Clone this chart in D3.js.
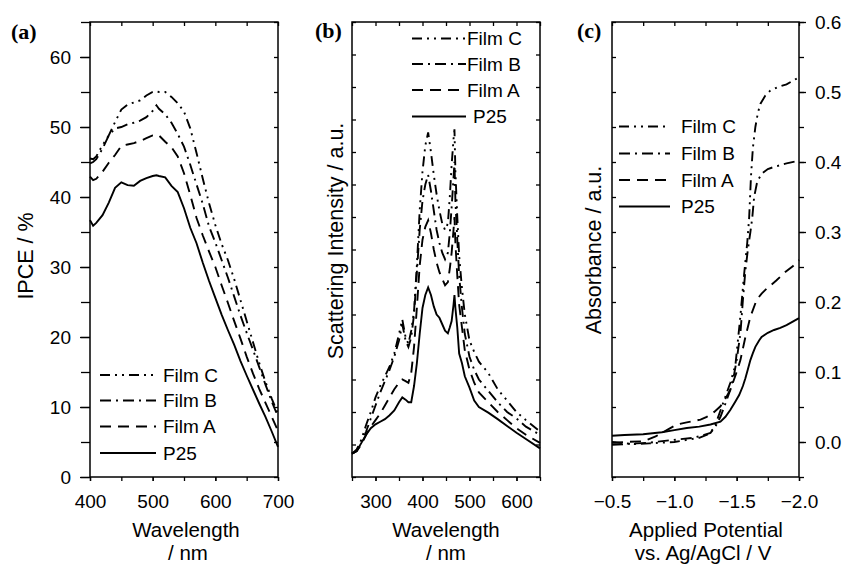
<!DOCTYPE html>
<html><head><meta charset="utf-8">
<script src="https://cdn.jsdelivr.net/npm/d3@7"></script>
<style>
html,body{margin:0;padding:0;background:#fff;}
svg text{font-family:"Liberation Sans",Arial,Helvetica,sans-serif;fill:#000;}
</style></head>
<body>
<svg id="chart" width="843" height="565"></svg>
<script>
// ---------- Panel (a): IPCE ----------
const wlA = [400,405,410,420,430,440,450,460,470,480,490,500,506,510,520,530,540,550,560,570,580,590,600,610,620,630,640,650,660,670,680,690,700];
const ipceP25  = [36.7,35.9,36.3,37.4,39.2,41.3,42.1,41.7,41.6,42.3,42.7,43.0,43.1,43.0,42.8,41.6,40.7,38.4,35.6,33.4,30.6,28.0,25.6,23.2,21.0,18.9,16.6,14.5,12.5,10.5,8.6,6.5,4.3];
const ipceFilmA = [42.9,42.4,42.6,43.6,44.9,46.0,47.3,47.5,47.7,48.0,48.4,48.8,48.9,48.8,47.9,47.1,45.8,43.4,40.3,37.0,34.5,32.2,30.0,27.4,24.9,22.3,19.8,17.2,14.8,12.6,10.6,8.6,6.6];
const ipceFilmB = [44.8,45.0,45.4,46.9,48.8,49.8,50.0,50.4,50.6,50.9,51.4,52.3,53.1,52.6,51.8,50.6,49.0,47.2,44.6,41.8,39.0,35.8,33.5,31.0,28.5,25.8,23.1,20.6,18.2,15.7,13.2,10.8,8.6];
const ipceFilmC = [45.5,45.4,45.8,47.4,48.8,50.7,52.5,53.2,53.5,53.8,54.5,55.0,55.1,55.0,55.0,54.3,53.4,52.2,49.8,46.3,42.6,39.1,36.0,33.3,31.0,28.3,25.3,22.3,19.3,16.3,13.6,11.2,9.0];

// ---------- Panel (b): Scattering ----------
const wlB = [250,260,270,280,290,300,310,320,330,340,350,357,364,370,376,382,388,394,400,406,412,418,424,430,436,442,448,454,458,462,466,468,470,474,478,484,490,500,510,520,540,560,580,600,620,650];
const scatP25   = [0.72,0.8,1.05,1.3,1.5,1.62,1.7,1.78,1.9,2.05,2.3,2.45,2.38,2.3,2.3,2.8,3.5,4.4,5.2,5.6,5.83,5.6,5.25,5.0,4.9,4.7,4.5,4.42,4.6,4.8,5.3,5.6,5.2,4.6,3.8,3.5,3.1,2.75,2.35,2.15,1.98,1.78,1.57,1.36,1.17,0.88];
const scatFilmA = [0.72,0.8,1.0,1.3,1.55,1.75,1.95,2.2,2.45,2.7,2.9,3.0,2.95,2.9,3.2,4.0,5.2,6.5,7.3,7.7,7.9,7.5,7.0,6.6,6.3,6.1,5.9,6.0,6.4,6.9,7.6,8.0,7.2,6.2,5.3,4.6,3.9,3.3,2.9,2.6,2.3,2.0,1.75,1.5,1.3,1.05];
const scatFilmB = [0.72,0.8,1.05,1.4,1.8,2.2,2.6,2.95,3.3,3.7,4.2,4.7,4.2,4.0,4.3,5.0,6.3,7.6,8.5,9.0,9.3,8.8,8.2,7.6,7.2,6.9,6.7,6.9,7.5,8.3,9.2,9.7,8.5,7.3,6.2,5.2,4.4,3.7,3.3,3.0,2.65,2.3,2.0,1.8,1.55,1.3];
const scatFilmC = [0.72,0.85,1.15,1.6,2.0,2.45,2.8,3.1,3.4,3.8,4.4,4.85,4.3,4.1,4.5,5.1,6.5,8.2,9.4,10.2,10.6,10.0,9.3,8.7,8.2,7.8,7.6,7.8,8.6,9.6,10.4,10.7,9.4,8.0,6.8,5.8,5.0,4.2,3.85,3.55,3.2,2.7,2.35,2.0,1.75,1.4];

// ---------- Panel (c): Absorbance vs potential ----------
const potP25   = [-0.5,-0.6,-0.75,-0.9,-1.0,-1.1,-1.2,-1.29,-1.37,-1.41,-1.45,-1.49,-1.52,-1.55,-1.57,-1.59,-1.61,-1.63,-1.65,-1.68,-1.7,-1.75,-1.8,-1.85,-1.9,-1.95,-2.0];
const absP25   = [0.009,0.010,0.011,0.014,0.017,0.020,0.022,0.025,0.029,0.036,0.046,0.058,0.067,0.080,0.091,0.104,0.117,0.127,0.136,0.145,0.150,0.156,0.160,0.163,0.167,0.172,0.177];
const potFilmA = [-0.5,-0.6,-0.75,-0.85,-0.95,-1.02,-1.1,-1.21,-1.26,-1.32,-1.37,-1.41,-1.45,-1.5,-1.53,-1.57,-1.61,-1.66,-1.7,-1.74,-1.82,-1.89,-1.95,-2.0];
const absFilmA = [-0.001,0.000,0.001,0.008,0.018,0.025,0.028,0.032,0.036,0.043,0.051,0.062,0.075,0.100,0.117,0.150,0.179,0.203,0.212,0.219,0.231,0.243,0.251,0.260];
const potFilmB = [-0.5,-0.6,-0.7,-0.8,-0.94,-1.05,-1.15,-1.22,-1.29,-1.33,-1.37,-1.41,-1.45,-1.48,-1.5,-1.53,-1.55,-1.57,-1.59,-1.61,-1.625,-1.64,-1.665,-1.7,-1.75,-1.8,-1.9,-2.0];
const absFilmB = [-0.004,-0.003,-0.002,-0.001,0.002,0.004,0.006,0.009,0.013,0.022,0.036,0.055,0.075,0.097,0.117,0.155,0.203,0.245,0.275,0.300,0.320,0.350,0.372,0.383,0.390,0.393,0.398,0.402];
const potFilmC = [-0.5,-0.6,-0.7,-0.8,-0.9,-1.0,-1.1,-1.2,-1.27,-1.32,-1.36,-1.4,-1.45,-1.49,-1.53,-1.56,-1.585,-1.6,-1.615,-1.63,-1.65,-1.67,-1.69,-1.73,-1.77,-1.83,-1.9,-1.95,-2.0];
const absFilmC = [0.000,-0.002,-0.003,-0.002,-0.001,0.000,0.003,0.006,0.011,0.020,0.040,0.060,0.085,0.110,0.180,0.240,0.285,0.320,0.380,0.420,0.450,0.470,0.483,0.495,0.502,0.507,0.511,0.516,0.521];

// ---------- labels ----------
const seriesNames = ["Film C","Film B","Film A","P25"];
const ticksA_x = [400,500,600,700];
const ticksA_y = [0,10,20,30,40,50,60];
const ticksB_x = [300,400,500,600];
const ticksC_x = [-0.5,-1.0,-1.5,-2.0];
const ticksC_y = [0.0,0.1,0.2,0.3,0.4,0.5,0.6];

// ---------- drawing ----------
const svg = d3.select("#chart");
const dashes = {"Film C":"10,5,2,5,2,5","Film B":"11,5,2,5","Film A":"11,7","P25":null};
const TOP = 22, BOT = 477;
const tickFont = "19px", titleFont = "21.5px", xTitleFont = "20.5px", legFont = "19px";

function frame(x0,x1){
  svg.append("rect").attr("x",x0).attr("y",TOP).attr("width",x1-x0).attr("height",BOT-TOP)
    .attr("fill","none").attr("stroke","#000").attr("stroke-width",1.5);
}
function styleAxis(g){
  g.select(".domain").remove();
  g.selectAll("line").attr("stroke","#000").attr("stroke-width",1.3);
  g.selectAll("text").style("font-size",tickFont).attr("fill","#000");
}
function range(a,b,s){const r=[];for(let v=a;v<=b+1e-9;v+=s)r.push(+v.toFixed(4));return r;}

function drawLines(x,y,xs,ys){
  const line = d3.line().x(d=>x(d[0])).y(d=>y(d[1])).curve(d3.curveLinear);
  seriesNames.forEach((n,i)=>{
    const pts = xs[i].map((v,j)=>[v,ys[i][j]]);
    svg.append("path").datum(pts).attr("d",line).attr("fill","none")
      .attr("stroke","#000").attr("stroke-width",1.9)
      .attr("stroke-dasharray",dashes[n]);
  });
}
function legend(lx0,lx1,tx,rows,txOverride){
  seriesNames.forEach((n,i)=>{
    svg.append("line").attr("x1",lx0).attr("x2",lx1).attr("y1",rows[i]).attr("y2",rows[i])
      .attr("stroke","#000").attr("stroke-width",2).attr("stroke-dasharray",dashes[n]);
    svg.append("text").attr("x",(txOverride&&txOverride[n])||tx).attr("y",rows[i]).attr("dy","0.35em")
      .style("font-size",legFont).text(n);
  });
}
function panelLabel(x,y,t){
  svg.append("text").attr("x",x).attr("y",y).text(t)
    .style("font-family","'Liberation Serif','Times New Roman',serif").style("font-weight","bold").style("font-size","22px");
}
function yTitle(x,cy,t){
  svg.append("text").attr("transform",`translate(${x},${cy}) rotate(-90)`).attr("text-anchor","middle")
    .style("font-size",titleFont).text(t);
}
function xTitle(cx,y,t){
  svg.append("text").attr("x",cx).attr("y",y).attr("text-anchor","middle").style("font-size",xTitleFont).text(t);
}

// Panel A
{
  const x = d3.scaleLinear([400,700],[90,278]);
  const y = d3.scaleLinear([0,65],[BOT,TOP]);
  svg.append("g").attr("transform",`translate(0,${BOT})`).call(d3.axisBottom(x).tickValues(range(400,700,50)).tickFormat("").tickSize(4)).call(styleAxis);
  svg.append("g").attr("transform",`translate(0,${BOT})`).call(d3.axisBottom(x).tickValues(ticksA_x).tickFormat(d3.format("d")).tickSize(4).tickPadding(14)).call(styleAxis);
  svg.append("g").attr("transform",`translate(0,${TOP})`).call(d3.axisBottom(x).tickValues(range(400,700,50)).tickFormat("").tickSize(4)).call(styleAxis);
  svg.append("g").attr("transform",`translate(90,0)`).call(d3.axisLeft(y).tickValues(range(0,65,5)).tickFormat("").tickSize(9)).call(styleAxis);
  svg.append("g").attr("transform",`translate(90,0)`).call(d3.axisLeft(y).tickValues(ticksA_y).tickFormat(d3.format("d")).tickSize(10).tickPadding(9)).call(styleAxis);
  svg.append("g").attr("transform",`translate(278,0)`).call(d3.axisLeft(y).tickValues(range(0,65,5)).tickFormat("").tickSize(4)).call(styleAxis);
  frame(90,278);
  drawLines(x,y,[wlA,wlA,wlA,wlA],[ipceFilmC,ipceFilmB,ipceFilmA,ipceP25]);
  legend(100,156,163,[375,400.5,426.5,453]);
  panelLabel(11,39,"(a)");
  yTitle(33,256,"IPCE / %");
  xTitle(186,537,"Wavelength");
  xTitle(188,560,"/ nm");
}
// Panel B
{
  const x = d3.scaleLinear([250,650],[352,540]);
  const y = d3.scaleLinear([0,14],[BOT,TOP]);
  svg.append("g").attr("transform",`translate(0,${BOT})`).call(d3.axisBottom(x).tickValues(range(250,650,50)).tickFormat("").tickSize(4)).call(styleAxis);
  svg.append("g").attr("transform",`translate(0,${BOT})`).call(d3.axisBottom(x).tickValues(ticksB_x).tickFormat(d3.format("d")).tickSize(4).tickPadding(14)).call(styleAxis);
  svg.append("g").attr("transform",`translate(0,${TOP})`).call(d3.axisBottom(x).tickValues(range(250,650,50)).tickFormat("").tickSize(4)).call(styleAxis);
  svg.append("g").attr("transform",`translate(352,0)`).call(d3.axisRight(y).tickValues(range(0,14,1)).tickFormat("").tickSize(4)).call(styleAxis);
  svg.append("g").attr("transform",`translate(540,0)`).call(d3.axisLeft(y).tickValues(range(0,14,1)).tickFormat("").tickSize(4)).call(styleAxis);
  frame(352,540);
  drawLines(x,y,[wlB,wlB,wlB,wlB],[scatFilmC,scatFilmB,scatFilmA,scatP25]);
  legend(412,466,467,[38.5,64,90,116.5],{"P25":473});
  panelLabel(315,38,"(b)");
  yTitle(343,241,"Scattering Intensity / a.u.");
  xTitle(446,537,"Wavelength");
  xTitle(446,560,"/ nm");
}
// Panel C
{
  const x = d3.scaleLinear([-0.5,-2.0],[612,799]);
  const y = d3.scaleLinear([-0.05,0.6],[BOT,TOP]);
  svg.append("g").attr("transform",`translate(0,${BOT})`).call(d3.axisBottom(x).tickValues(range(0,1.5,0.25).map(v=>-0.5-v)).tickFormat("").tickSize(4)).call(styleAxis);
  svg.append("g").attr("transform",`translate(0,${BOT})`).call(d3.axisBottom(x).tickValues(ticksC_x).tickFormat(d3.format(".1f")).tickSize(4).tickPadding(14)).call(styleAxis);
  svg.append("g").attr("transform",`translate(0,${TOP})`).call(d3.axisBottom(x).tickValues(range(0,1.5,0.25).map(v=>-0.5-v)).tickFormat("").tickSize(4)).call(styleAxis);
  svg.append("g").attr("transform",`translate(612,0)`).call(d3.axisRight(y).tickValues(range(-0.05,0.6,0.05)).tickFormat("").tickSize(4)).call(styleAxis);
  svg.append("g").attr("transform",`translate(799,0)`).call(d3.axisRight(y).tickValues(range(-0.05,0.6,0.05)).tickFormat("").tickSize(5)).call(styleAxis);
  svg.append("g").attr("transform",`translate(799,0)`).call(d3.axisRight(y).tickValues(ticksC_y).tickFormat(d3.format(".1f")).tickSize(7).tickPadding(9)).call(styleAxis);
  frame(612,799);
  drawLines(x,y,[potFilmC,potFilmB,potFilmA,potP25],[absFilmC,absFilmB,absFilmA,absP25]);
  legend(619,670,681,[126.5,153.5,180,206.5]);
  panelLabel(577,38,"(c)");
  yTitle(601,250,"Absorbance / a.u.");
  xTitle(706,537,"Applied Potential");
  xTitle(703,560,"vs. Ag/AgCl / V");
}
</script>
</body></html>
